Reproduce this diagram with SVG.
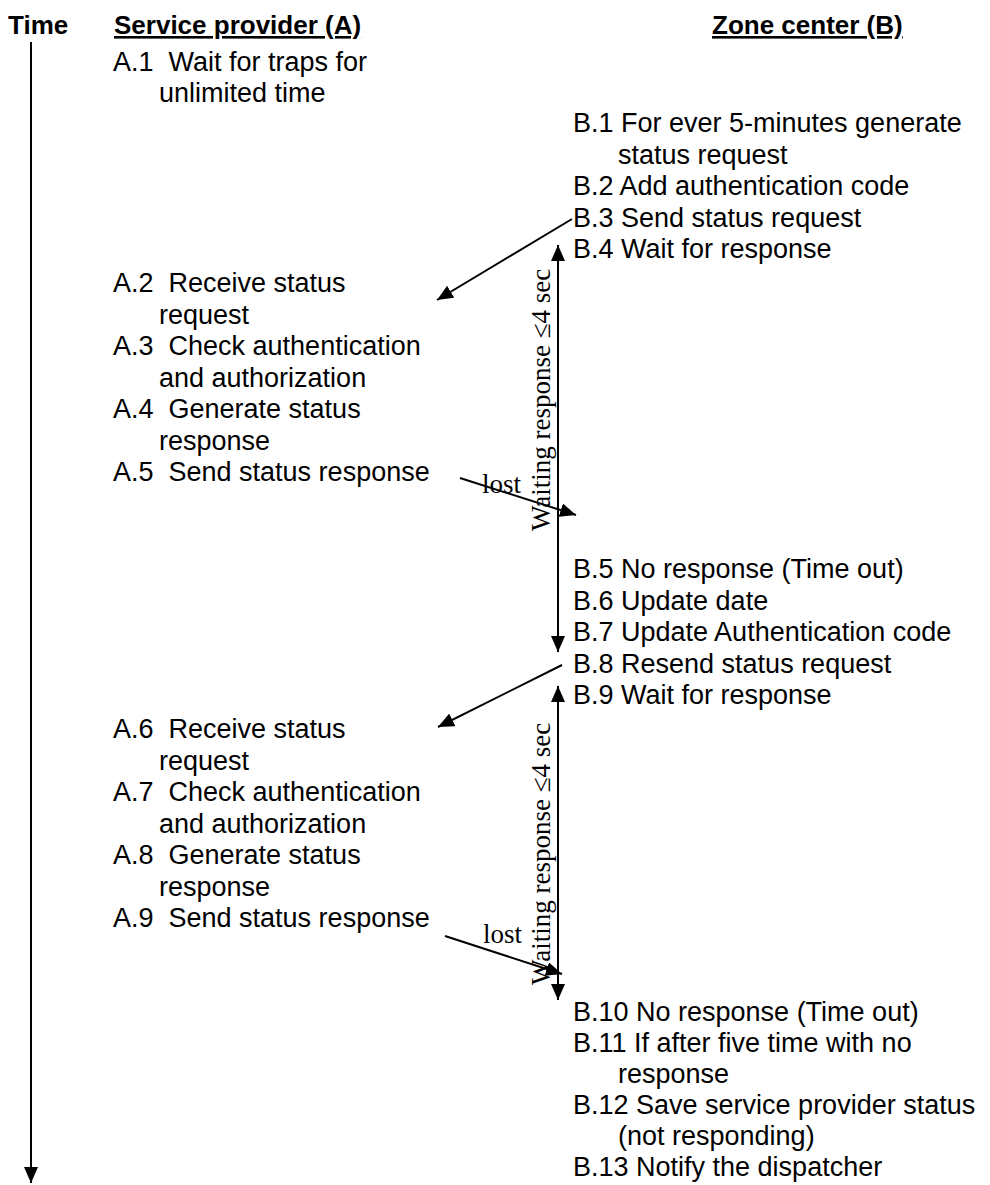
<svg xmlns="http://www.w3.org/2000/svg" width="990" height="1185" viewBox="0 0 990 1185">
  <style>
    .hdr { font-family: "Liberation Sans", Arial, sans-serif; font-size: 26px; font-weight: bold; fill: #000; }
    .ul { text-decoration: underline; }
    .step { font-family: "Liberation Sans", Arial, sans-serif; font-size: 27px; fill: #000; }
    .note { font-family: "Liberation Serif", "Times New Roman", serif; font-size: 27px; fill: #000; }
    .wire { stroke: #000; stroke-width: 2; fill: none; }
  </style>
  <defs>
    <marker id="head" viewBox="0 0 16 14" refX="16" refY="7" markerWidth="16" markerHeight="14" markerUnits="userSpaceOnUse" orient="auto-start-reverse">
      <path d="M0,0 L16,7 L0,14 Z" fill="#000"/>
    </marker>
  </defs>

  <!-- column headings -->
  <g id="headings">
    <text class="hdr" x="8" y="34">Time</text>
    <text class="hdr ul" x="114" y="34">Service provider (A)</text>
    <text class="hdr ul" x="712" y="34">Zone center (B)</text>
  </g>

  <!-- service provider steps -->
  <g id="A1" class="step"><text x="113" y="71">A.1&#160; Wait for traps for</text><text x="159" y="102">unlimited time</text></g>
  <g id="A2" class="step"><text x="113" y="292">A.2&#160; Receive status</text><text x="159" y="323.5">request</text></g>
  <g id="A3" class="step"><text x="113" y="355">A.3&#160; Check authentication</text><text x="159" y="386.5">and authorization</text></g>
  <g id="A4" class="step"><text x="113" y="418">A.4&#160; Generate status</text><text x="159" y="449.5">response</text></g>
  <g id="A5" class="step"><text x="113" y="481">A.5&#160; Send status response</text></g>
  <g id="A6" class="step"><text x="113" y="738">A.6&#160; Receive status</text><text x="159" y="769.5">request</text></g>
  <g id="A7" class="step"><text x="113" y="801">A.7&#160; Check authentication</text><text x="159" y="832.5">and authorization</text></g>
  <g id="A8" class="step"><text x="113" y="864">A.8&#160; Generate status</text><text x="159" y="895.5">response</text></g>
  <g id="A9" class="step"><text x="113" y="927">A.9&#160; Send status response</text></g>

  <!-- zone center steps -->
  <g id="B1" class="step"><text x="573" y="132">B.1 For ever 5-minutes generate</text><text x="618" y="163.5">status request</text></g>
  <g id="B2" class="step"><text x="573" y="195">B.2 Add authentication code</text></g>
  <g id="B3" class="step"><text x="573" y="226.5">B.3 Send status request</text></g>
  <g id="B4" class="step"><text x="573" y="258">B.4 Wait for response</text></g>
  <g id="B5" class="step"><text x="573" y="578">B.5 No response (Time out)</text></g>
  <g id="B6" class="step"><text x="573" y="609.5">B.6 Update date</text></g>
  <g id="B7" class="step"><text x="573" y="641">B.7 Update Authentication code</text></g>
  <g id="B8" class="step"><text x="573" y="672.5">B.8 Resend status request</text></g>
  <g id="B9" class="step"><text x="573" y="704">B.9 Wait for response</text></g>
  <g id="B10" class="step"><text x="573" y="1021">B.10 No response (Time out)</text></g>
  <g id="B11" class="step"><text x="573" y="1052">B.11 If after five time with no</text><text x="618" y="1083">response</text></g>
  <g id="B12" class="step"><text x="573" y="1114">B.12 Save service provider status</text><text x="618" y="1145">(not responding)</text></g>
  <g id="B13" class="step"><text x="573" y="1176">B.13 Notify the dispatcher</text></g>

  <!-- connectors: time axis, messages and waiting intervals -->
  <g id="connectors">
    <line class="wire" x1="31" y1="42" x2="31" y2="1183" marker-end="url(#head)"/>
    <line class="wire" x1="572" y1="219" x2="437" y2="300" marker-end="url(#head)"/>
    <line class="wire" x1="558" y1="245" x2="558" y2="652" marker-start="url(#head)" marker-end="url(#head)"/>
    <line class="wire" x1="460" y1="478" x2="576" y2="515" marker-end="url(#head)"/>
    <line class="wire" x1="562" y1="665" x2="438" y2="727" marker-end="url(#head)"/>
    <line class="wire" x1="558" y1="686" x2="558" y2="1000" marker-start="url(#head)" marker-end="url(#head)"/>
    <line class="wire" x1="445" y1="936" x2="562" y2="974" marker-end="url(#head)"/>
  </g>

  <!-- interval and loss labels -->
  <g id="labels" class="note">
    <text x="482" y="493">lost</text>
    <text x="483" y="943">lost</text>
    <text transform="translate(550,531) rotate(-90)">Waiting response ≤4 sec</text>
    <text transform="translate(550,985) rotate(-90)">Waiting response ≤4 sec</text>
  </g>
</svg>
